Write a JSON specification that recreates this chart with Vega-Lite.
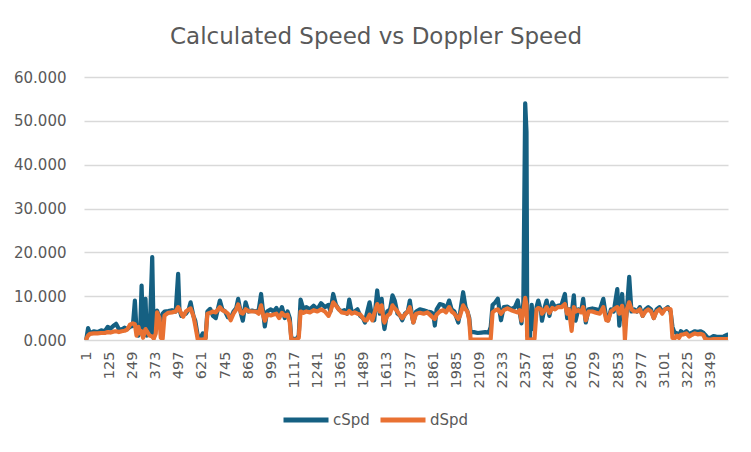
{
  "$schema": "https://vega.github.io/schema/vega-lite/v6.json",
  "width": 644,
  "height": 263,
  "autosize": {"type": "none"},
  "padding": {"left": 84, "top": 77, "right": 23, "bottom": 112},
  "background": "white",
  "title": {
    "text": "Calculated Speed vs Doppler Speed",
    "fontSize": 23,
    "fontWeight": "normal",
    "font": "DejaVu Sans",
    "color": "#595959",
    "anchor": "middle",
    "dx": -30,
    "offset": 21
  },
  "config": {
    "view": {"stroke": null},
    "font": "DejaVu Sans"
  },
  "data": {
    "values": [
      {"i": 1, "cSpd": 0.3, "dSpd": 0.3},
      {"i": 10, "cSpd": 2.7, "dSpd": 1.0},
      {"i": 20, "cSpd": 1.5, "dSpd": 1.4},
      {"i": 40, "cSpd": 2.0, "dSpd": 1.5},
      {"i": 60, "cSpd": 1.8, "dSpd": 1.5},
      {"i": 80, "cSpd": 2.2, "dSpd": 1.6},
      {"i": 100, "cSpd": 2.0, "dSpd": 1.6},
      {"i": 115, "cSpd": 3.0, "dSpd": 1.8},
      {"i": 130, "cSpd": 2.6, "dSpd": 1.7},
      {"i": 145, "cSpd": 3.2, "dSpd": 1.9},
      {"i": 160, "cSpd": 3.7, "dSpd": 2.0},
      {"i": 175, "cSpd": 2.5, "dSpd": 1.8},
      {"i": 190, "cSpd": 2.4, "dSpd": 2.0},
      {"i": 205, "cSpd": 2.8, "dSpd": 2.1},
      {"i": 220, "cSpd": 2.5, "dSpd": 2.4},
      {"i": 235, "cSpd": 3.0, "dSpd": 3.5},
      {"i": 250, "cSpd": 3.2, "dSpd": 3.8},
      {"i": 261, "cSpd": 9.0, "dSpd": 3.6},
      {"i": 270, "cSpd": 2.0, "dSpd": 1.0},
      {"i": 280, "cSpd": 1.0, "dSpd": 3.0},
      {"i": 290, "cSpd": 3.0, "dSpd": 1.5},
      {"i": 297, "cSpd": 12.4, "dSpd": 2.0},
      {"i": 305, "cSpd": 1.0, "dSpd": 0.5},
      {"i": 318, "cSpd": 9.4, "dSpd": 2.5},
      {"i": 325, "cSpd": 1.0, "dSpd": 2.0},
      {"i": 340, "cSpd": 1.5, "dSpd": 1.0},
      {"i": 354, "cSpd": 18.9, "dSpd": 0.8},
      {"i": 362, "cSpd": 0.5, "dSpd": 0.3},
      {"i": 373, "cSpd": 3.0, "dSpd": 1.5},
      {"i": 380, "cSpd": 6.7, "dSpd": 6.3},
      {"i": 393, "cSpd": 5.0, "dSpd": 5.0},
      {"i": 400, "cSpd": 4.5, "dSpd": 0.5},
      {"i": 410, "cSpd": 6.0, "dSpd": 0.3},
      {"i": 420, "cSpd": 6.5, "dSpd": 5.6},
      {"i": 440, "cSpd": 6.6, "dSpd": 6.2},
      {"i": 460, "cSpd": 6.8, "dSpd": 6.3},
      {"i": 480, "cSpd": 6.5, "dSpd": 6.5},
      {"i": 493, "cSpd": 15.1, "dSpd": 7.5},
      {"i": 500, "cSpd": 7.0, "dSpd": 7.0},
      {"i": 510, "cSpd": 5.5, "dSpd": 6.0},
      {"i": 520, "cSpd": 5.8, "dSpd": 5.3},
      {"i": 535, "cSpd": 6.0, "dSpd": 6.5},
      {"i": 550, "cSpd": 7.0, "dSpd": 7.0},
      {"i": 560, "cSpd": 8.6, "dSpd": 7.2},
      {"i": 575, "cSpd": 5.5, "dSpd": 5.5},
      {"i": 585, "cSpd": 4.4, "dSpd": 3.3},
      {"i": 598, "cSpd": 1.0, "dSpd": 0.2},
      {"i": 610, "cSpd": 0.3, "dSpd": 0.1},
      {"i": 625, "cSpd": 1.5, "dSpd": 0.1},
      {"i": 640, "cSpd": 0.5, "dSpd": 0.3},
      {"i": 650, "cSpd": 6.5, "dSpd": 6.0},
      {"i": 665, "cSpd": 7.1, "dSpd": 6.2},
      {"i": 680, "cSpd": 5.5, "dSpd": 6.5},
      {"i": 695, "cSpd": 5.0, "dSpd": 6.3},
      {"i": 717, "cSpd": 9.0, "dSpd": 7.5},
      {"i": 730, "cSpd": 7.0, "dSpd": 6.8},
      {"i": 745, "cSpd": 6.5, "dSpd": 6.5},
      {"i": 760, "cSpd": 5.2, "dSpd": 6.0},
      {"i": 775, "cSpd": 5.0, "dSpd": 4.5},
      {"i": 790, "cSpd": 6.5, "dSpd": 6.0},
      {"i": 805, "cSpd": 7.3, "dSpd": 7.0},
      {"i": 815, "cSpd": 9.4, "dSpd": 8.1},
      {"i": 830, "cSpd": 6.0, "dSpd": 6.2},
      {"i": 840, "cSpd": 4.4, "dSpd": 6.0},
      {"i": 855, "cSpd": 8.6, "dSpd": 7.0},
      {"i": 870, "cSpd": 6.5, "dSpd": 6.6},
      {"i": 890, "cSpd": 6.7, "dSpd": 6.5},
      {"i": 910, "cSpd": 6.5, "dSpd": 6.5},
      {"i": 925, "cSpd": 6.8, "dSpd": 6.0},
      {"i": 938, "cSpd": 10.5, "dSpd": 7.9},
      {"i": 950, "cSpd": 6.0, "dSpd": 5.5},
      {"i": 958, "cSpd": 3.1, "dSpd": 4.4},
      {"i": 970, "cSpd": 6.5, "dSpd": 5.8},
      {"i": 990, "cSpd": 7.0, "dSpd": 5.6},
      {"i": 1005, "cSpd": 6.5, "dSpd": 5.8},
      {"i": 1020, "cSpd": 7.3, "dSpd": 6.0},
      {"i": 1035, "cSpd": 6.0, "dSpd": 5.0},
      {"i": 1050, "cSpd": 7.5, "dSpd": 6.2},
      {"i": 1065, "cSpd": 5.0, "dSpd": 5.5},
      {"i": 1080, "cSpd": 6.5, "dSpd": 5.8},
      {"i": 1092, "cSpd": 5.0, "dSpd": 4.0},
      {"i": 1100, "cSpd": 0.5, "dSpd": 0.2},
      {"i": 1115, "cSpd": 0.2, "dSpd": 0.1},
      {"i": 1130, "cSpd": 0.3, "dSpd": 0.1},
      {"i": 1140, "cSpd": 1.0, "dSpd": 0.5},
      {"i": 1150, "cSpd": 9.2, "dSpd": 6.5},
      {"i": 1165, "cSpd": 7.0, "dSpd": 6.2},
      {"i": 1180, "cSpd": 7.5, "dSpd": 6.5},
      {"i": 1200, "cSpd": 7.0, "dSpd": 6.3},
      {"i": 1220, "cSpd": 7.8, "dSpd": 6.8},
      {"i": 1240, "cSpd": 7.0, "dSpd": 6.5},
      {"i": 1260, "cSpd": 8.4, "dSpd": 7.0},
      {"i": 1280, "cSpd": 7.5, "dSpd": 6.5},
      {"i": 1300, "cSpd": 8.0, "dSpd": 5.5},
      {"i": 1310, "cSpd": 6.5, "dSpd": 6.5},
      {"i": 1325, "cSpd": 10.5, "dSpd": 8.6},
      {"i": 1340, "cSpd": 8.0, "dSpd": 7.8},
      {"i": 1355, "cSpd": 7.0, "dSpd": 7.0},
      {"i": 1370, "cSpd": 6.5, "dSpd": 6.3},
      {"i": 1385, "cSpd": 6.8, "dSpd": 6.2},
      {"i": 1400, "cSpd": 6.0, "dSpd": 6.0},
      {"i": 1411, "cSpd": 9.2, "dSpd": 6.6},
      {"i": 1425, "cSpd": 6.2, "dSpd": 6.0},
      {"i": 1440, "cSpd": 6.5, "dSpd": 6.3},
      {"i": 1455, "cSpd": 7.0, "dSpd": 6.0},
      {"i": 1470, "cSpd": 5.5, "dSpd": 5.8},
      {"i": 1485, "cSpd": 5.0, "dSpd": 5.0},
      {"i": 1495, "cSpd": 4.0, "dSpd": 4.5},
      {"i": 1505, "cSpd": 6.0, "dSpd": 4.5},
      {"i": 1520, "cSpd": 8.6, "dSpd": 5.8},
      {"i": 1535, "cSpd": 5.0, "dSpd": 4.5},
      {"i": 1545, "cSpd": 4.5, "dSpd": 6.0},
      {"i": 1561, "cSpd": 11.3, "dSpd": 8.2},
      {"i": 1575, "cSpd": 6.0, "dSpd": 6.5},
      {"i": 1585, "cSpd": 9.4, "dSpd": 7.9},
      {"i": 1595, "cSpd": 4.0, "dSpd": 4.5},
      {"i": 1600, "cSpd": 2.5, "dSpd": 4.0},
      {"i": 1615, "cSpd": 6.5, "dSpd": 5.5},
      {"i": 1630, "cSpd": 7.0, "dSpd": 6.0},
      {"i": 1643, "cSpd": 10.2, "dSpd": 7.9},
      {"i": 1655, "cSpd": 9.0, "dSpd": 7.2},
      {"i": 1670, "cSpd": 6.0, "dSpd": 6.5},
      {"i": 1685, "cSpd": 5.5, "dSpd": 5.5},
      {"i": 1695, "cSpd": 4.5, "dSpd": 5.0},
      {"i": 1710, "cSpd": 6.0, "dSpd": 5.8},
      {"i": 1725, "cSpd": 6.5, "dSpd": 6.5},
      {"i": 1736, "cSpd": 9.0, "dSpd": 7.5},
      {"i": 1750, "cSpd": 5.0, "dSpd": 5.0},
      {"i": 1755, "cSpd": 4.0, "dSpd": 4.0},
      {"i": 1770, "cSpd": 6.5, "dSpd": 6.0},
      {"i": 1790, "cSpd": 7.0, "dSpd": 6.2},
      {"i": 1810, "cSpd": 6.8, "dSpd": 6.0},
      {"i": 1830, "cSpd": 6.5, "dSpd": 6.3},
      {"i": 1850, "cSpd": 6.3, "dSpd": 5.5},
      {"i": 1862, "cSpd": 6.0, "dSpd": 5.0},
      {"i": 1870, "cSpd": 3.3, "dSpd": 4.8},
      {"i": 1880, "cSpd": 7.0, "dSpd": 5.8},
      {"i": 1897, "cSpd": 8.2, "dSpd": 6.5},
      {"i": 1915, "cSpd": 8.0, "dSpd": 6.8},
      {"i": 1930, "cSpd": 7.0, "dSpd": 6.3},
      {"i": 1947, "cSpd": 9.0, "dSpd": 7.5},
      {"i": 1960, "cSpd": 7.0, "dSpd": 6.5},
      {"i": 1975, "cSpd": 6.5, "dSpd": 6.0},
      {"i": 1996, "cSpd": 4.0, "dSpd": 4.8},
      {"i": 2005, "cSpd": 6.0, "dSpd": 5.5},
      {"i": 2022, "cSpd": 10.9, "dSpd": 7.9},
      {"i": 2035, "cSpd": 7.5, "dSpd": 7.0},
      {"i": 2045, "cSpd": 6.5, "dSpd": 6.5},
      {"i": 2055, "cSpd": 5.0, "dSpd": 4.5},
      {"i": 2062, "cSpd": 1.8, "dSpd": 0.1},
      {"i": 2080, "cSpd": 1.8, "dSpd": 0.1},
      {"i": 2100, "cSpd": 1.6, "dSpd": 0.1},
      {"i": 2120, "cSpd": 1.7, "dSpd": 0.1},
      {"i": 2140, "cSpd": 1.8, "dSpd": 0.1},
      {"i": 2160, "cSpd": 1.7, "dSpd": 0.1},
      {"i": 2170, "cSpd": 3.0, "dSpd": 0.3},
      {"i": 2180, "cSpd": 8.0, "dSpd": 6.3},
      {"i": 2195, "cSpd": 8.6, "dSpd": 6.8},
      {"i": 2208, "cSpd": 9.4, "dSpd": 7.0},
      {"i": 2225, "cSpd": 4.5, "dSpd": 6.0},
      {"i": 2240, "cSpd": 7.5, "dSpd": 6.8},
      {"i": 2260, "cSpd": 7.6, "dSpd": 7.2},
      {"i": 2280, "cSpd": 7.0, "dSpd": 6.8},
      {"i": 2300, "cSpd": 7.5, "dSpd": 6.5},
      {"i": 2315, "cSpd": 9.0, "dSpd": 6.3},
      {"i": 2325, "cSpd": 6.5, "dSpd": 6.8},
      {"i": 2335, "cSpd": 3.8, "dSpd": 4.4},
      {"i": 2345, "cSpd": 8.5, "dSpd": 6.5},
      {"i": 2355, "cSpd": 54.0, "dSpd": 9.6},
      {"i": 2362, "cSpd": 47.5, "dSpd": 8.0},
      {"i": 2366, "cSpd": 1.0, "dSpd": 0.2},
      {"i": 2380, "cSpd": 0.5, "dSpd": 0.1},
      {"i": 2390, "cSpd": 8.0, "dSpd": 0.1},
      {"i": 2398, "cSpd": 2.5, "dSpd": 0.2},
      {"i": 2405, "cSpd": 3.0, "dSpd": 0.3},
      {"i": 2416, "cSpd": 7.5, "dSpd": 7.0},
      {"i": 2425, "cSpd": 9.0, "dSpd": 7.3},
      {"i": 2440, "cSpd": 6.5, "dSpd": 7.0},
      {"i": 2445, "cSpd": 4.4, "dSpd": 6.0},
      {"i": 2460, "cSpd": 7.5, "dSpd": 6.8},
      {"i": 2470, "cSpd": 9.0, "dSpd": 7.5},
      {"i": 2485, "cSpd": 5.5, "dSpd": 6.2},
      {"i": 2500, "cSpd": 8.6, "dSpd": 7.3},
      {"i": 2515, "cSpd": 7.5, "dSpd": 7.0},
      {"i": 2530, "cSpd": 7.8, "dSpd": 7.5},
      {"i": 2550, "cSpd": 8.0, "dSpd": 7.5},
      {"i": 2568, "cSpd": 10.5, "dSpd": 8.2},
      {"i": 2580, "cSpd": 5.0, "dSpd": 6.0},
      {"i": 2590, "cSpd": 7.0, "dSpd": 7.0},
      {"i": 2604, "cSpd": 6.0, "dSpd": 2.1},
      {"i": 2616, "cSpd": 10.2, "dSpd": 7.5},
      {"i": 2625, "cSpd": 4.4, "dSpd": 6.5},
      {"i": 2640, "cSpd": 7.0, "dSpd": 6.8},
      {"i": 2655, "cSpd": 6.5, "dSpd": 6.3},
      {"i": 2666, "cSpd": 9.4, "dSpd": 7.5},
      {"i": 2680, "cSpd": 4.0, "dSpd": 4.5},
      {"i": 2695, "cSpd": 7.0, "dSpd": 6.5},
      {"i": 2715, "cSpd": 7.2, "dSpd": 6.5},
      {"i": 2735, "cSpd": 7.0, "dSpd": 6.2},
      {"i": 2755, "cSpd": 6.8, "dSpd": 6.0},
      {"i": 2774, "cSpd": 9.4, "dSpd": 7.5},
      {"i": 2790, "cSpd": 5.0, "dSpd": 4.5},
      {"i": 2800, "cSpd": 4.5, "dSpd": 4.4},
      {"i": 2815, "cSpd": 7.0, "dSpd": 6.5},
      {"i": 2830, "cSpd": 6.5, "dSpd": 7.0},
      {"i": 2849, "cSpd": 11.6, "dSpd": 7.5},
      {"i": 2860, "cSpd": 3.3, "dSpd": 6.0},
      {"i": 2875, "cSpd": 10.5, "dSpd": 7.8},
      {"i": 2885, "cSpd": 4.5, "dSpd": 5.0},
      {"i": 2890, "cSpd": 3.0, "dSpd": 0.1},
      {"i": 2900, "cSpd": 6.5, "dSpd": 7.0},
      {"i": 2913, "cSpd": 14.4, "dSpd": 8.6},
      {"i": 2925, "cSpd": 6.5, "dSpd": 7.0},
      {"i": 2940, "cSpd": 7.0, "dSpd": 6.5},
      {"i": 2955, "cSpd": 6.5, "dSpd": 6.5},
      {"i": 2970, "cSpd": 7.5, "dSpd": 7.0},
      {"i": 2985, "cSpd": 5.5, "dSpd": 5.5},
      {"i": 3000, "cSpd": 7.0, "dSpd": 6.5},
      {"i": 3015, "cSpd": 7.5, "dSpd": 7.0},
      {"i": 3030, "cSpd": 7.0, "dSpd": 6.5},
      {"i": 3045, "cSpd": 5.0, "dSpd": 5.0},
      {"i": 3060, "cSpd": 7.0, "dSpd": 6.5},
      {"i": 3075, "cSpd": 7.5, "dSpd": 7.0},
      {"i": 3090, "cSpd": 6.5, "dSpd": 6.0},
      {"i": 3105, "cSpd": 7.0, "dSpd": 7.0},
      {"i": 3120, "cSpd": 7.5, "dSpd": 7.2},
      {"i": 3135, "cSpd": 6.5, "dSpd": 7.0},
      {"i": 3145, "cSpd": 3.0, "dSpd": 0.5},
      {"i": 3155, "cSpd": 1.8, "dSpd": 0.3},
      {"i": 3170, "cSpd": 1.5, "dSpd": 1.0},
      {"i": 3180, "cSpd": 1.0, "dSpd": 0.5},
      {"i": 3190, "cSpd": 2.0, "dSpd": 1.2},
      {"i": 3205, "cSpd": 1.5, "dSpd": 1.3},
      {"i": 3220, "cSpd": 2.0, "dSpd": 1.5},
      {"i": 3235, "cSpd": 1.3, "dSpd": 0.8},
      {"i": 3250, "cSpd": 1.7, "dSpd": 1.2},
      {"i": 3265, "cSpd": 2.0, "dSpd": 1.5},
      {"i": 3280, "cSpd": 1.8, "dSpd": 1.3},
      {"i": 3295, "cSpd": 2.0, "dSpd": 1.4},
      {"i": 3310, "cSpd": 1.7, "dSpd": 1.2},
      {"i": 3320, "cSpd": 1.2, "dSpd": 0.3},
      {"i": 3335, "cSpd": 0.5, "dSpd": 0.1},
      {"i": 3350, "cSpd": 0.5, "dSpd": 0.1},
      {"i": 3365, "cSpd": 0.9, "dSpd": 0.2},
      {"i": 3380, "cSpd": 0.8, "dSpd": 0.2},
      {"i": 3400, "cSpd": 0.7, "dSpd": 0.2},
      {"i": 3420, "cSpd": 0.8, "dSpd": 0.2},
      {"i": 3440, "cSpd": 1.2, "dSpd": 0.2}
    ]
  },
  "transform": [
    {"fold": ["cSpd", "dSpd"], "as": ["series", "speed"]}
  ],
  "mark": {"type": "line", "strokeWidth": 4.2, "strokeCap": "round", "strokeJoin": "round", "clip": true},
  "encoding": {
    "x": {
      "field": "i",
      "type": "quantitative",
      "scale": {"domain": [-12, 3443], "nice": false, "zero": false},
      "axis": {
        "title": null,
        "values": [1, 125, 249, 373, 497, 621, 745, 869, 993, 1117, 1241, 1365, 1489, 1613, 1737, 1861, 1985, 2109, 2233, 2357, 2481, 2605, 2729, 2853, 2977, 3101, 3225, 3349],
        "labelAngle": -90,
        "labelFont": "DejaVu Sans",
        "labelFontSize": 14.5,
        "labelColor": "#595959",
        "labelPadding": 11,
        "labelFlush": false,
        "labelOverlap": false,
        "ticks": false,
        "domain": false,
        "grid": false,
        "format": "d"
      }
    },
    "y": {
      "field": "speed",
      "type": "quantitative",
      "scale": {"domain": [0, 60], "nice": false},
      "axis": {
        "title": null,
        "values": [0, 10, 20, 30, 40, 50, 60],
        "format": ".3f",
        "labelFont": "DejaVu Sans",
        "labelFontSize": 15,
        "labelColor": "#595959",
        "labelPadding": 18,
        "ticks": false,
        "domain": false,
        "grid": true,
        "gridColor": "#D9D9D9",
        "gridWidth": 1.3
      }
    },
    "color": {
      "field": "series",
      "type": "nominal",
      "scale": {"domain": ["cSpd", "dSpd"], "range": ["#156082", "#E97132"]},
      "legend": {
        "title": null,
        "orient": "none",
        "direction": "horizontal",
        "legendX": 197,
        "legendY": 318,
        "symbolType": "stroke",
        "symbolSize": 2025,
        "symbolStrokeWidth": 5,
        "labelFont": "DejaVu Sans",
        "labelFontSize": 15,
        "labelColor": "#595959",
        "labelOffset": 2,
        "columnPadding": 0
      }
    }
  }
}
